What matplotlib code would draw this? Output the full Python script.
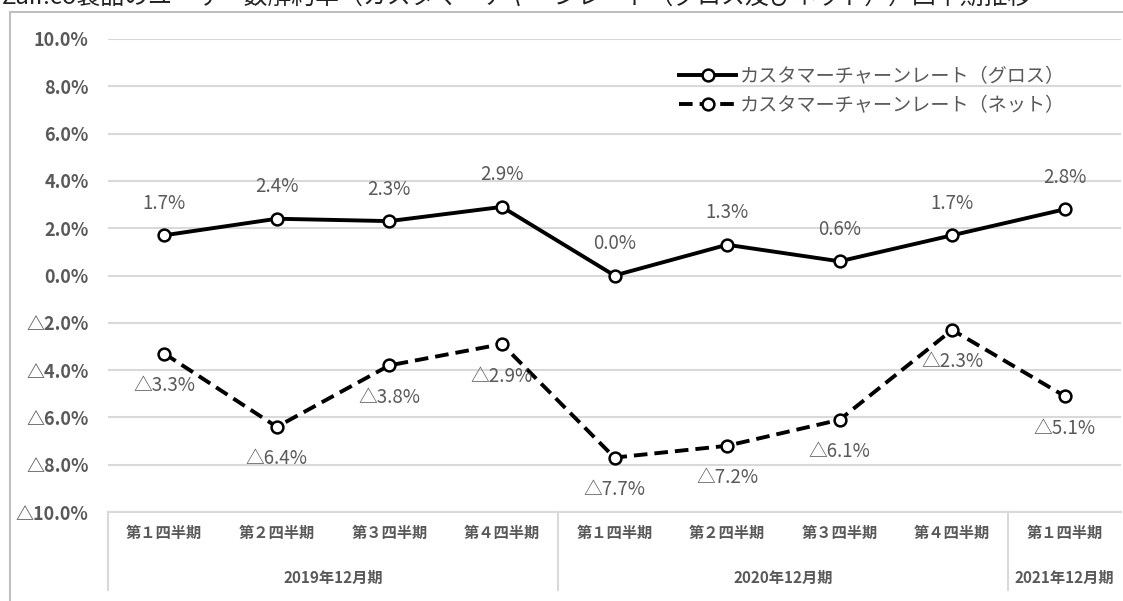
import matplotlib
matplotlib.use("Agg")
import matplotlib.pyplot as plt
import matplotlib.transforms as mtransforms
from matplotlib.patches import Rectangle

plt.rcParams['font.family'] = ['Noto Sans CJK JP', 'DejaVu Sans']

title = "Zaif.co製品のユーザー数解約率（カスタマーチャーンレート（グロス及びネット））四半期推移"
quarters = ["第１四半期", "第２四半期", "第３四半期", "第４四半期",
            "第１四半期", "第２四半期", "第３四半期", "第４四半期",
            "第１四半期"]
groups = ["2019年12月期", "2020年12月期", "2021年12月期"]
group_sizes = [4, 4, 1]
gross = [1.7, 2.4, 2.3, 2.9, 0.0, 1.3, 0.6, 1.7, 2.8]
net = [-3.3, -6.4, -3.8, -2.9, -7.7, -7.2, -6.1, -2.3, -5.1]
series_names = ["カスタマーチャーンレート（グロス）", "カスタマーチャーンレート（ネット）"]
yticks = [-10, -8, -6, -4, -2, 0, 2, 4, 6, 8, 10]

TXT = "#595959"
GRID = "#d9d9d9"


def fmt(v):
    if v < 0:
        return "△{:.1f}%".format(abs(v))
    return "{:.1f}%".format(v)


W, H = 1123, 601
fig = plt.figure(figsize=(W / 100, H / 100), dpi=100)

# outer frame of the chart object
fig.add_artist(Rectangle((10 / W, -0.1), 1.2, (H - 12) / H + 0.1, transform=fig.transFigure,
                         fill=False, edgecolor="#bfbfbf", linewidth=1.5))
# title, cut off at the top edge as in the source screenshot
fig.text(2 / W, 1.0 + 3 / H, title, ha="left", va="center", fontsize=17.2, color="#222222")

ax = fig.add_axes([108 / W, (H - 512) / H, 1013 / W, 473 / H])
x = list(range(len(quarters)))

ax.plot(x, gross, color="black", lw=2.8, marker="o", ms=8.5, mfc="white", mec="black",
        mew=1.8, zorder=3, label=series_names[0])
ax.plot(x, net, color="black", lw=2.8, ls=(0, (3.5, 1.8)), marker="o", ms=8.5, mfc="white",
        mec="black", mew=1.8, zorder=3, label=series_names[1])

for xi, v in zip(x, gross):
    ax.annotate(fmt(v), (xi, v), xytext=(0, 23), textcoords="offset points",
                ha="center", va="center", fontsize=13.5, color=TXT)
for xi, v in zip(x, net):
    ax.annotate(fmt(v), (xi, v), xytext=(0, -23), textcoords="offset points",
                ha="center", va="center", fontsize=13.5, color=TXT)

ax.set_xlim(-0.5, len(quarters) - 0.5)
ax.set_ylim(-10, 10)
ax.set_yticks(yticks)
ax.set_yticklabels([fmt(v) for v in yticks], fontsize=13, color=TXT, fontweight="bold")
ax.tick_params(axis="y", length=0, pad=14)
ax.grid(axis="y", color=GRID, lw=1.5)
ax.set_axisbelow(True)
for s in ["top", "right", "left"]:
    ax.spines[s].set_visible(False)
ax.spines["bottom"].set_color(GRID)
ax.spines["bottom"].set_linewidth(1.5)

ax.set_xticks(x)
ax.set_xticklabels(quarters, fontsize=11, color=TXT, fontweight="bold")
ax.tick_params(axis="x", length=0, pad=9)

trans = mtransforms.blended_transform_factory(ax.transData, ax.transAxes)
edges = [-0.5]
for n in group_sizes:
    edges.append(edges[-1] + n)
for e in edges[:-1]:
    ax.plot([e, e], [0, -0.165], transform=trans, color=GRID, lw=1.5, clip_on=False)
for g, a, b in zip(groups, edges[:-1], edges[1:]):
    ax.text((a + b) / 2, -0.14, g, transform=trans, ha="center", va="center",
            fontsize=11, color=TXT, fontweight="bold")

ax.legend(loc="upper left", bbox_to_anchor=(0.554, 0.963), frameon=False, fontsize=13.8,
          handlelength=3.0, handletextpad=0.2, labelspacing=0.42, borderpad=0,
          labelcolor=TXT)

fig.savefig("out.png", dpi=100)
